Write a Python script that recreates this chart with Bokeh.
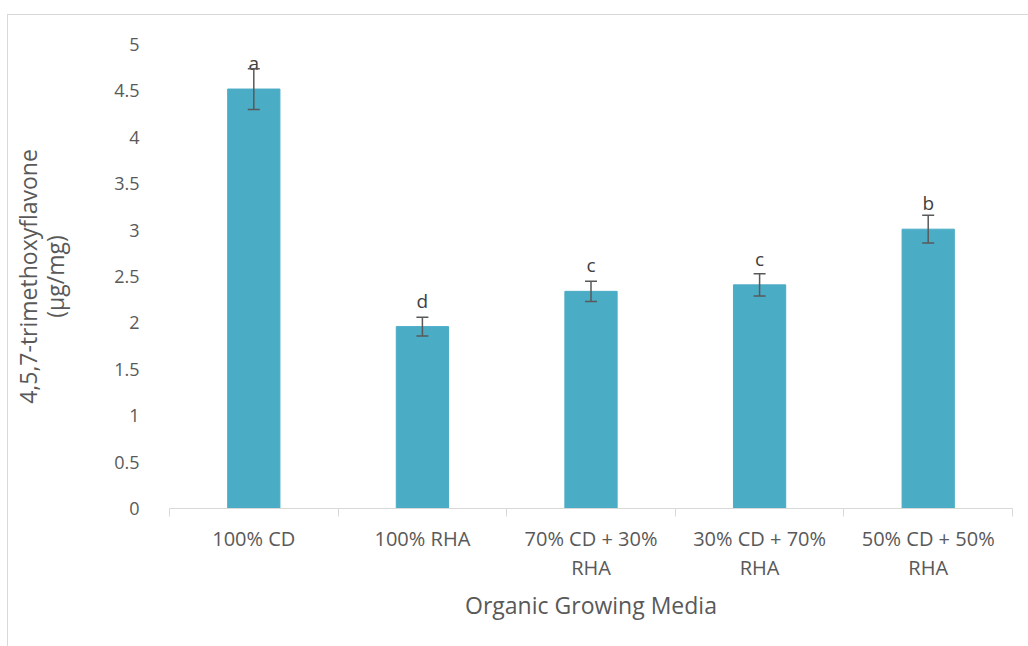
from bokeh.plotting import figure
from bokeh.models import (ColumnDataSource, Range1d, LinearAxis,
                          FixedTicker, Whisker, TeeHead, CustomJSTickFormatter)
from bokeh.core.properties import value
from bokeh.embed import file_html
from bokeh.resources import INLINE

categories = ["100% CD", "100% RHA", "70% CD + 30%\nRHA", "30% CD + 70%\nRHA", "50% CD + 50%\nRHA"]
means = [4.52, 1.96, 2.34, 2.41, 3.01]
errors = [0.22, 0.10, 0.11, 0.12, 0.15]
letters = ["a", "d", "c", "c", "b"]
y_ticks = [0, 0.5, 1, 1.5, 2, 2.5, 3, 3.5, 4, 4.5, 5]

FONT = "Open Sans"
GREY = "#595959"

n = len(categories)
centers = [i + 0.5 for i in range(n)]
boundaries = list(range(n + 1))

src = ColumnDataSource(dict(
    x=centers, mean=means,
    upper=[m + e for m, e in zip(means, errors)],
    lower=[m - e for m, e in zip(means, errors)],
    letter=letters,
))

p = figure(width=1026, height=640, output_backend="svg", toolbar_location=None,
           x_range=Range1d(0, n), y_range=Range1d(0, 5),
           x_axis_location=None, y_axis_location=None,
           min_border_left=160, min_border_right=22, min_border_top=29, min_border_bottom=147)
p.styles = {"margin-left": "7px", "margin-top": "14px", "border": "1px solid #d9d9d9"}
p.outline_line_color = None
p.grid.visible = False
p.background_fill_color = "white"

# y axis
yax = LinearAxis(ticker=FixedTicker(ticks=y_ticks))
yax.axis_line_color = None
yax.major_tick_line_color = None
yax.minor_tick_line_color = None
yax.major_label_text_font = FONT
yax.major_label_text_font_size = "18px"
yax.major_label_text_color = GREY
yax.major_label_standoff = 24
yax.axis_label = "4,5,7-trimethoxyflavone\n(µg/mg)"
yax.axis_label_text_font = FONT
yax.axis_label_text_font_size = "23px"
yax.axis_label_text_font_style = "normal"
yax.axis_label_text_color = GREY
yax.axis_label_text_line_height = 0.85
yax.axis_label_standoff = 40
p.add_layout(yax, "left")

# x axis with ticks at category boundaries
xax1 = LinearAxis(ticker=FixedTicker(ticks=boundaries))
xax1.axis_line_color = "#d9d9d9"
xax1.major_tick_line_color = "#d9d9d9"
xax1.major_tick_in = 0
xax1.major_tick_out = 8
xax1.minor_tick_line_color = None
xax1.major_label_text_font_size = "0px"
xax1.major_label_standoff = 0
p.add_layout(xax1, "below")

# category labels
xax2 = LinearAxis(ticker=FixedTicker(ticks=centers),
                  formatter=CustomJSTickFormatter(args=dict(labels=categories),
                                                  code="return labels[Math.floor(tick)];"))
xax2.axis_line_color = None
xax2.major_tick_line_color = None
xax2.minor_tick_line_color = None
xax2.major_label_text_font = FONT
xax2.major_label_text_font_size = "20px"
xax2.major_label_text_color = GREY
xax2.major_label_text_line_height = 1.1
xax2.major_label_standoff = 2
xax2.axis_label = "Organic Growing Media"
xax2.axis_label_text_font = FONT
xax2.axis_label_text_font_size = "23px"
xax2.axis_label_text_font_style = "normal"
xax2.axis_label_text_color = GREY
xax2.axis_label_standoff = 5
p.add_layout(xax2, "below")

p.vbar(x="x", top="mean", width=0.31, source=src, fill_color="#4BACC6", line_color="#4BACC6")

w = Whisker(base="x", upper="upper", lower="lower", source=src, level="overlay",
            line_color=GREY, line_width=1.5,
            upper_head=TeeHead(size=12, line_color=GREY, line_width=1.5),
            lower_head=TeeHead(size=12, line_color=GREY, line_width=1.5))
p.add_layout(w)

p.text(x="x", y="mean", text="letter", source=src, text_font=value(FONT),
       text_font_size="19px", text_color="#404040", text_align="center",
       text_baseline="middle", y_offset=-26)

open("out.html", "w").write(file_html(p, INLINE))
